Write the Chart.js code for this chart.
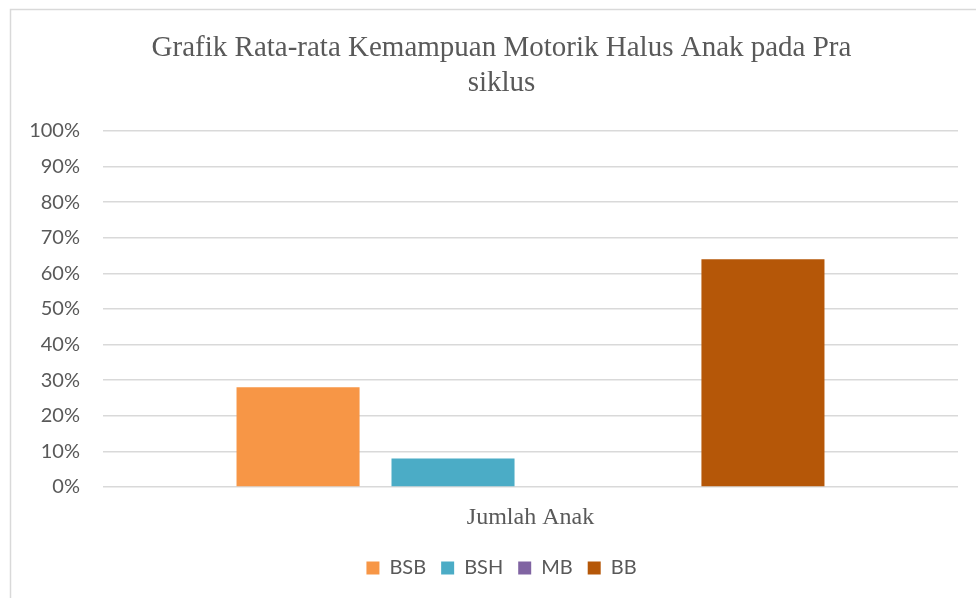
<!DOCTYPE html>
<html>
<head>
<meta charset="utf-8">
<script src="https://cdn.jsdelivr.net/npm/chart.js@4/dist/chart.umd.min.js"></script>
<style>
html,body{margin:0;padding:0;background:#fff;}
#wrap{position:relative;width:976px;height:598px;}
</style>
</head>
<body>
<div id="wrap"><canvas id="c" width="976" height="598"></canvas></div>
<script>
const categories = ["Jumlah Anak"];
const seriesNames = ["BSB", "BSH", "MB", "BB"];
const seriesColors = ["#F79646", "#4BACC6", "#8064A2", "#B55708"];
const BSB = [28];
const BSH = [8];
const MB = [0];
const BB = [64];
const seriesValues = [BSB, BSH, MB, BB];
const titleLines = ["Grafik Rata-rata Kemampuan Motorik Halus Anak pada Pra", "siklus"];

const borderPlugin = {
  id: 'frame',
  beforeDraw(chart) {
    const ctx = chart.ctx;
    ctx.save();
    ctx.fillStyle = '#fff';
    ctx.fillRect(0, 0, chart.width, chart.height);
    ctx.strokeStyle = '#d9d9d9';
    ctx.lineWidth = 1.5;
    ctx.strokeRect(10.5, 9.5, 1000, 700);
    ctx.restore();
  }
};

new Chart(document.getElementById('c'), {
  type: 'bar',
  data: {
    labels: categories,
    datasets: seriesNames.map((n, i) => ({
      label: n,
      data: seriesValues[i],
      backgroundColor: seriesColors[i],
      borderWidth: 0,
      categoryPercentage: 0.725,
      barPercentage: 0.794
    }))
  },
  options: {
    responsive: false,
    animation: false,
    devicePixelRatio: 1,
    layout: { padding: { left: 27, right: 0, top: 20, bottom: 10 } },
    plugins: {
      title: {
        display: true,
        text: titleLines,
        color: '#595959',
        font: { family: '"Liberation Serif", "Times New Roman", serif', size: 29, weight: 'normal', lineHeight: 35/29 },
        padding: { top: 10.5, bottom: 30.5 }
      },
      legend: {
        position: 'bottom',
        labels: {
          color: '#595959',
          font: { family: 'Lato, "Open Sans", sans-serif', size: 20 },
          boxWidth: 13,
          boxHeight: 13,
          padding: 15
        }
      },
      tooltip: { enabled: false }
    },
    scales: {
      x: {
        afterFit(scale) { scale.height = 56; },
        grid: { display: false, drawTicks: false },
        border: { display: false },
        ticks: {
          color: '#595959',
          font: { family: '"Liberation Serif", "Times New Roman", serif', size: 24 },
          padding: 16
        }
      },
      y: {
        min: 0, max: 100,
        afterFit(scale) { scale.width = 76; },
        grid: { color: '#d9d9d9', lineWidth: 1.5, drawTicks: false },
        border: { display: false },
        ticks: {
          stepSize: 10,
          padding: 23,
          color: '#595959',
          font: { family: 'Lato, "Open Sans", sans-serif', size: 20 },
          callback: v => v + '%'
        }
      },
      yRight: {
        position: 'right',
        display: true,
        afterFit(scale) { scale.width = 18; },
        grid: { display: false, drawTicks: false },
        border: { display: false },
        ticks: { display: false }
      }
    }
  },
  plugins: [borderPlugin]
});
</script>
</body>
</html>
